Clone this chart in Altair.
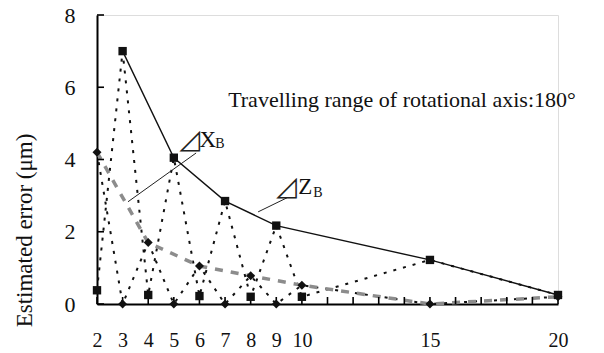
import altair as alt
import pandas as pd

# ---- data ----
x_all = [2, 3, 4, 5, 6, 7, 8, 9, 10, 15, 20]
zb_zigzag = [0.38, 7.0, 0.25, 4.05, 0.22, 2.85, 0.2, 2.17, 0.2, 1.22, 0.25]
xb_zigzag = [4.2, 0.0, 1.7, 0.0, 1.05, 0.0, 0.78, 0.0, 0.52, 0.0, 0.2]
zb_x = [3, 5, 7, 9, 15, 20]
zb_env = [7.0, 4.05, 2.85, 2.17, 1.22, 0.25]
xb_x = [2, 4, 6, 8, 10, 15, 20]
xb_env = [4.2, 1.7, 1.05, 0.78, 0.52, 0.0, 0.2]
x_tick_values = list(range(2, 21))
x_label_values = [2, 3, 4, 5, 6, 7, 8, 9, 10, 15, 20]
y_tick_values = [0, 2, 4, 6, 8]

note_text = "Travelling range of rotational axis:180°"
y_title = "Estimated error (μm)"

SERIF = "Liberation Serif"
W, H = 461, 289
X_MIN, X_MAX, Y_MIN, Y_MAX = 2, 20, 0, 8
TICK_PX = 7
x_tick_len = TICK_PX * (X_MAX - X_MIN) / W   # inward tick length in data units
y_tick_len = TICK_PX * (Y_MAX - Y_MIN) / H

xs = alt.Scale(domain=[X_MIN, X_MAX], nice=False, zero=False)
ys = alt.Scale(domain=[Y_MIN, Y_MAX], nice=False, zero=True)

x_axis = alt.Axis(values=x_label_values, format="d", ticks=False, grid=False,
                  domainColor="black", domainWidth=2, labelFont=SERIF,
                  labelFontSize=20, labelColor="#111", labelPadding=26,
                  labelOverlap=False, labelFlush=False, title=None)
y_axis = alt.Axis(values=y_tick_values, format="d", ticks=False, grid=False,
                  domainColor="black", domainWidth=2, labelFont=SERIF,
                  labelFontSize=22, labelColor="#111", labelPadding=22,
                  title=y_title, titleFont=SERIF, titleFontSize=23,
                  titleFontWeight="normal", titleColor="#111",
                  titleAngle=270, titleX=-73, titleY=215,
                  titleAlign="center", titleBaseline="middle")

X = lambda f: alt.X(f"{f}:Q", scale=xs, axis=x_axis)
Y = lambda f: alt.Y(f"{f}:Q", scale=ys, axis=y_axis)

zig = pd.DataFrame({"x": x_all, "z1": zb_zigzag, "z2": xb_zigzag})
zenv = pd.DataFrame({"x": zb_x, "y": zb_env})
xenv = pd.DataFrame({"x": xb_x, "y": xb_env})

dot1 = alt.Chart(zig).mark_line(color="#111", strokeWidth=2, strokeDash=[3, 7]).encode(x=X("x"), y=Y("z1"))
dot2 = alt.Chart(zig).mark_line(color="#111", strokeWidth=2, strokeDash=[3, 7]).encode(x=X("x"), y=Y("z2"))
gray = alt.Chart(xenv).mark_line(color="#8c8c8c", strokeWidth=3.5, strokeDash=[8, 8]).encode(x=X("x"), y=Y("y"))
solid = alt.Chart(zenv).mark_line(color="#111", strokeWidth=1.4).encode(x=X("x"), y=Y("y"))
sq = alt.Chart(zig).mark_point(shape="square", filled=True, color="#111", size=70, opacity=1).encode(x=X("x"), y=Y("z1"))
dm = alt.Chart(zig).mark_point(shape="diamond", filled=True, color="#111", size=80, opacity=1).encode(x=X("x"), y=Y("z2"))

# inward axis ticks
xtick_df = pd.DataFrame({"x": x_tick_values, "y": [Y_MIN] * len(x_tick_values),
                         "x2": x_tick_values, "y2": [Y_MIN + y_tick_len] * len(x_tick_values)})
ytick_df = pd.DataFrame({"x": [X_MIN] * len(y_tick_values), "y": y_tick_values,
                         "x2": [X_MIN + x_tick_len] * len(y_tick_values), "y2": y_tick_values})
ticks_df = pd.concat([xtick_df, ytick_df], ignore_index=True)
ticks = alt.Chart(ticks_df).mark_rule(color="black", strokeWidth=1.6).encode(
    x=X("x"), y=Y("y"), x2="x2:Q", y2="y2:Q")

# annotations (data coordinates)
leaders = pd.DataFrame({"x": [3.21, 8.29], "y": [2.83, 2.55], "x2": [5.87, 9.42], "y2": [4.18, 2.94]})
lead = alt.Chart(leaders).mark_rule(color="#222", strokeWidth=1).encode(
    x=X("x"), y=Y("y"), x2="x2:Q", y2="y2:Q")

note = pd.DataFrame({"x": [7.12], "y": [5.45], "t": [note_text]})
notetxt = alt.Chart(note).mark_text(font=SERIF, fontSize=22, align="left", baseline="alphabetic", color="#111").encode(
    x=X("x"), y=Y("y"), text="t:N")
tri = pd.DataFrame({"x": [5.22, 9.0], "y": [4.33, 3.03], "t": ["◿", "◿"]})
tritxt = alt.Chart(tri).mark_text(font="DejaVu Sans", fontSize=27, align="left", baseline="alphabetic", color="#222").encode(
    x=X("x"), y=Y("y"), text="t:N")
letters = pd.DataFrame({"x": [6.0, 9.86], "y": [4.35, 3.05], "t": ["X", "Z"]})
lettxt = alt.Chart(letters).mark_text(font=SERIF, fontSize=23, align="left", baseline="alphabetic", color="#111").encode(
    x=X("x"), y=Y("y"), text="t:N")
small = pd.DataFrame({"x": [6.62, 10.44], "y": [4.32, 2.97], "t": ["B", "B"]})
smalltxt = alt.Chart(small).mark_text(font=SERIF, fontSize=14, align="left", baseline="alphabetic", color="#111").encode(
    x=X("x"), y=Y("y"), text="t:N")

chart = alt.layer(dot1, dot2, gray, solid, lead, ticks, sq, dm, notetxt, tritxt, lettxt, smalltxt).properties(
    width=W, height=H,
    autosize=alt.AutoSizeParams(type="none"),
    padding={"left": 97, "top": 15, "right": 46, "bottom": 49},
).configure_view(stroke=None).configure(background="white")

chart.save("out.html", embed_options={"renderer": "svg", "actions": False})
